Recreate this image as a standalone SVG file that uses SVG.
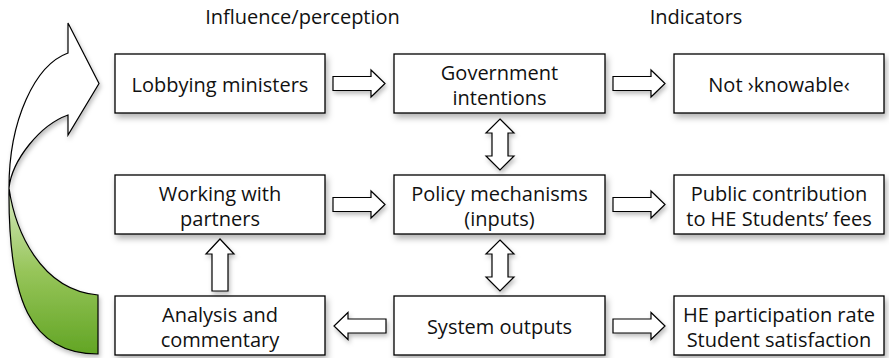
<svg xmlns="http://www.w3.org/2000/svg" width="889" height="358" viewBox="0 0 889 358">
<style>
.box{fill:#fff;stroke:#000;stroke-width:1.3;filter:url(#sh)}
.arr{fill:#fff;stroke:#000;stroke-width:1.2;stroke-linejoin:miter;filter:url(#sh2)}
text{font-family:"Open Sans","Liberation Sans",sans-serif;font-size:20px;fill:#111;text-anchor:middle}
</style>
<defs>
<filter id="sh" x="-10%" y="-20%" width="130%" height="160%">
<feDropShadow dx="2" dy="4" stdDeviation="3" flood-color="#000" flood-opacity="0.3"/>
</filter>
<filter id="sh2" x="-30%" y="-30%" width="160%" height="170%">
<feDropShadow dx="1.5" dy="3" stdDeviation="2" flood-color="#000" flood-opacity="0.25"/>
</filter>
<linearGradient id="green" gradientUnits="userSpaceOnUse" x1="0" y1="188" x2="0" y2="354">
<stop offset="0" stop-color="#d6e9c0"/>
<stop offset="0.5" stop-color="#97c55a"/>
<stop offset="1" stop-color="#62a524"/>
</linearGradient>
</defs>

<g id="headings">
<text x="302.5" y="24">Influence/perception</text>
<text x="696" y="24">Indicators</text>
</g>

<g id="curved-arrow" filter="url(#sh2)">
<path d="M68,53 L68,23 L99,83.5 L68,135 L68,115 C40,125 12,160 9,188 C9,120 35,65 68,53 Z" fill="#fff" stroke="#000" stroke-width="1.2"/>
<path d="M9,188 C8,300 30,354 98,354 L98,295 C40,290 15,230 9,188 Z" fill="url(#green)" stroke="#000" stroke-width="1.2"/>
</g>

<g id="lobbying">
<rect class="box" x="115" y="54" width="210" height="59"/>
<text x="220" y="92">Lobbying ministers</text>
</g>
<g id="government">
<rect class="box" x="394" y="54" width="211" height="59"/>
<text x="499.5" y="79.5">Government</text>
<text x="499.5" y="105">intentions</text>
</g>
<g id="not-knowable">
<rect class="box" x="674" y="54" width="210" height="59"/>
<text x="779" y="92">Not ›knowable‹</text>
</g>
<g id="working">
<rect class="box" x="115" y="175" width="210" height="59"/>
<text x="220" y="200.5">Working with</text>
<text x="220" y="226">partners</text>
</g>
<g id="policy">
<rect class="box" x="394" y="175" width="211" height="59"/>
<text x="499.5" y="200.5">Policy mechanisms</text>
<text x="499.5" y="226">(inputs)</text>
</g>
<g id="public">
<rect class="box" x="674" y="175" width="210" height="59"/>
<text x="779" y="200.5">Public contribution</text>
<text x="779" y="226">to HE Students’ fees</text>
</g>
<g id="analysis">
<rect class="box" x="115" y="296" width="210" height="59"/>
<text x="220" y="321.5">Analysis and</text>
<text x="220" y="347">commentary</text>
</g>
<g id="system">
<rect class="box" x="394" y="296" width="211" height="59"/>
<text x="499.5" y="334">System outputs</text>
</g>
<g id="he">
<rect class="box" x="674" y="296" width="210" height="59"/>
<text x="779" y="321.5">HE participation rate</text>
<text x="779" y="347">Student satisfaction</text>
</g>

<g id="connectors">
<polygon class="arr" points="333,76.5 371,76.5 371,70 385,83.5 371,97 371,90.5 333,90.5"/>
<polygon class="arr" points="613,76.5 651,76.5 651,70 665,83.5 651,97 651,90.5 613,90.5"/>
<polygon class="arr" points="333,197.5 371,197.5 371,191 385,204.5 371,218 371,211.5 333,211.5"/>
<polygon class="arr" points="613,197.5 651,197.5 651,191 665,204.5 651,218 651,211.5 613,211.5"/>
<polygon class="arr" points="613,319 651,319 651,312.5 665,326 651,339.5 651,333 613,333"/>
<polygon class="arr" points="386,319 348,319 348,312.5 334,326 348,339.5 348,333 386,333"/>
<polygon class="arr" points="212,291 212,254 206,254 220,239 234,254 228,254 228,291"/>
<polygon class="arr" points="500,119 514,133 508,133 508,156 514,156 500,170 486,156 492,156 492,133 486,133"/>
<polygon class="arr" points="500,240 514,254 508,254 508,277 514,277 500,291 486,277 492,277 492,254 486,254"/>
</g>
</svg>
